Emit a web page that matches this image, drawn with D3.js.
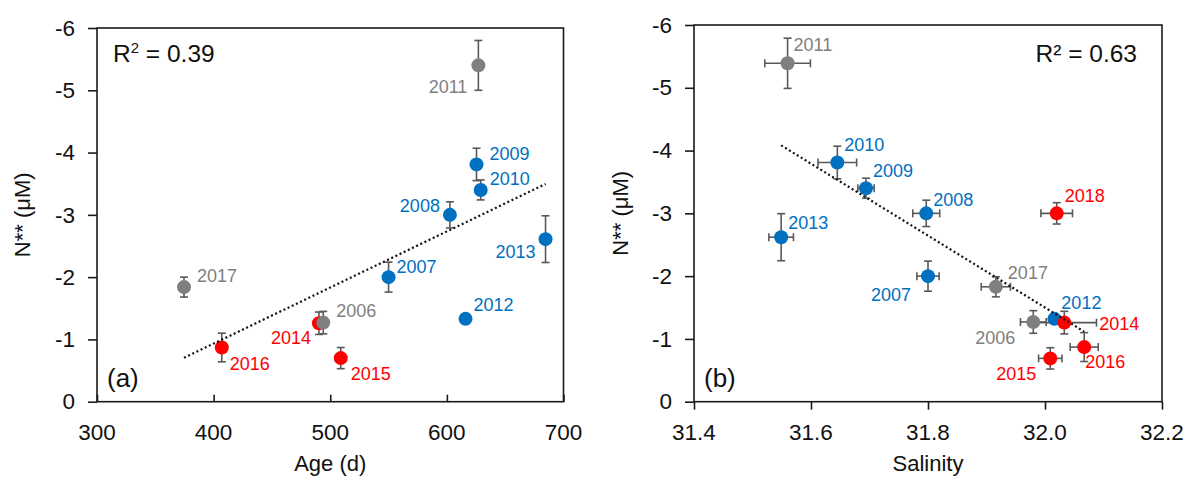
<!DOCTYPE html>
<html>
<head>
<meta charset="utf-8">
<script src="https://cdn.jsdelivr.net/npm/d3@7/dist/d3.min.js"></script>
<style>
  html, body { margin: 0; padding: 0; background: #fff; }
  svg { display: block; }
  text { font-family: "Liberation Sans", Arial, sans-serif; }
</style>
</head>
<body>
<svg id="chart" width="1196" height="478"></svg>
<script>
// Sampling years and their group (A: grey, B: blue, C: red)
const years     = ["2006","2007","2008","2009","2010","2011","2012","2013","2014","2015","2016","2017","2018"];
const groups    = ["A","B","B","B","B","A","B","B","C","C","C","A","C"];
// Panel (a): water age (days) vs N** (µM); no age estimate for 2018
const ageDays   = [494, 550, 602.6, 625.4, 629, 627, 616, 684.6, 490.3, 509, 407, 374.6, null];
const nAge      = [-1.27, -2.00, -3.00, -3.81, -3.40, -5.40, -1.33, -2.61, -1.26, -0.70, -0.87, -1.84, null];
const nAgeErr   = [0.18, 0.24, 0.21, 0.26, 0.16, 0.40, 0.04, 0.375, 0.18, 0.17, 0.23, 0.16, null];
// Panel (b): salinity vs N** (µM)
const salinity  = [31.98, 31.80, 31.797, 31.694, 31.645, 31.56, 32.016, 31.549, 32.033, 32.009, 32.067, 31.916, 32.02];
const salErr    = [0.022, 0.019, 0.023, 0.014, 0.033, 0.039, 0.008, 0.021, 0.055, 0.020, 0.024, 0.025, 0.027];
const nSal      = [-1.27, -2.00, -3.00, -3.40, -3.81, -5.39, -1.32, -2.62, -1.26, -0.69, -0.87, -1.83, -3.00];
const nSalErr   = [0.18, 0.24, 0.21, 0.16, 0.26, 0.40, 0.04, 0.375, 0.18, 0.17, 0.23, 0.16, 0.17];
// Axis ticks
const ageTicks  = [300, 400, 500, 600, 700];
const salTicks  = [31.4, 31.6, 31.8, 32.0, 32.2];
const nTicks    = [0, -1, -2, -3, -4, -5, -6];
// Coefficients of determination shown on each panel
const r2Labels  = ["0.39", "0.63"];
// Draw order within each panel (later = on top)
const orderA = ["2017","2016","2015","2014","2006","2007","2008","2009","2010","2011","2012","2013"];
const orderB = ["2011","2010","2009","2013","2008","2007","2017","2006","2012","2014","2015","2016","2018"];

const colors = { A: "#7f7f7f", B: "#0070c0", C: "#ff0000" };
const textColors = { A: "#808080", B: "#0070c0", C: "#ff0000" };
const errColor = "#595959";

// Year label placement: [dx, dy, anchor] relative to the marker centre
const labelPosA = {
  "2011": [-11, 28, "end"], "2009": [13, -4, "start"], "2010": [9, -5, "start"],
  "2008": [-10, -3, "end"], "2013": [-10, 19, "end"], "2007": [8, -4, "start"],
  "2012": [8, -8, "start"], "2006": [13, -6, "start"], "2014": [-8, 21, "end"],
  "2015": [10, 22, "start"], "2016": [8, 22, "start"], "2017": [13, -5, "start"]
};
const labelPosB = {
  "2011": [6, -12, "start"], "2010": [7, -11, "start"], "2009": [7, -11, "start"],
  "2013": [7, -8, "start"], "2008": [7, -7, "start"], "2018": [8, -11, "start"],
  "2007": [-17, 25, "end"], "2017": [12, -8, "start"], "2006": [-18, 22, "end"],
  "2012": [7, -10, "start"], "2014": [35, 7, "start"], "2016": [1, 21, "start"],
  "2015": [-14, 22, "end"]
};

const recordsA = years.map((y, i) => ({
  year: y, group: groups[i], x: ageDays[i], n: nAge[i], nErr: nAgeErr[i], xErr: null
})).filter(r => r.x != null);
const recordsB = years.map((y, i) => ({
  year: y, group: groups[i], x: salinity[i], n: nSal[i], nErr: nSalErr[i], xErr: salErr[i]
}));

const svg = d3.select("#chart");

function linFit(pts) {
  const mx = d3.mean(pts, p => p[0]), my = d3.mean(pts, p => p[1]);
  let sxy = 0, sxx = 0;
  pts.forEach(p => { sxy += (p[0] - mx) * (p[1] - my); sxx += (p[0] - mx) ** 2; });
  const b = sxy / sxx;
  return { slope: b, intercept: my - b * mx };
}

function drawPanel(cfg) {
  const { left, right, top, bottom, xDomain, xTicks, xFmt, records,
          order, labelPos, tag, r2, r2Right, xTickOutside, xTitle, yTitleX } = cfg;
  const g = svg.append("g");
  const x = d3.scaleLinear().domain(xDomain).range([left, right]);
  const y = d3.scaleLinear().domain([0, -6]).range([bottom, top]);

  // plot frame
  g.append("rect").attr("x", left).attr("y", top)
    .attr("width", right - left).attr("height", bottom - top)
    .attr("fill", "none").attr("stroke", "#1a1a1a").attr("stroke-width", 1.6);

  // y axis: ticks outside
  const yAxis = d3.axisLeft(y).tickValues(nTicks).tickSize(9).tickPadding(13)
    .tickFormat(d => d === 0 ? "0" : "-" + Math.abs(d));
  const ya = g.append("g").attr("transform", `translate(${left},0)`).call(yAxis);
  ya.select(".domain").remove();
  ya.selectAll("line").attr("stroke", "#1a1a1a").attr("stroke-width", 1.6);
  ya.selectAll("text").attr("font-size", 22.5).attr("fill", "#111")
    .attr("font-family", "Liberation Sans, Arial, sans-serif");

  // x axis
  const xAxis = (xTickOutside ? d3.axisBottom(x).tickSize(8) : d3.axisTop(x).tickSize(7))
    .tickValues(xTicks).tickFormat(xFmt);
  const xa = g.append("g").attr("transform", `translate(0,${bottom})`).call(xAxis);
  xa.select(".domain").remove();
  xa.selectAll("line").attr("stroke", "#1a1a1a").attr("stroke-width", 1.6);
  xa.selectAll("text").remove();
  g.selectAll(".xlab").data(xTicks).join("text")
    .attr("x", d => x(d)).attr("y", 440)
    .attr("text-anchor", "middle").attr("font-size", 22.5).attr("fill", "#111")
    .text(xFmt);

  const byYear = new Map(records.map(r => [r.year, r]));
  const drawn = order.map(k => byYear.get(k));

  // error bars
  const eb = g.append("g").attr("stroke", errColor).attr("stroke-width", 1.6).attr("fill", "none");
  drawn.forEach(r => {
    const cx = x(r.x), y1 = y(r.n - r.nErr), y2 = y(r.n + r.nErr);
    eb.append("line").attr("x1", cx).attr("x2", cx).attr("y1", y1).attr("y2", y2);
    eb.append("line").attr("x1", cx - 4).attr("x2", cx + 4).attr("y1", y1).attr("y2", y1);
    eb.append("line").attr("x1", cx - 4).attr("x2", cx + 4).attr("y1", y2).attr("y2", y2);
    if (r.xErr != null) {
      const cy = y(r.n), x1 = x(r.x - r.xErr), x2 = x(r.x + r.xErr);
      eb.append("line").attr("x1", x1).attr("x2", x2).attr("y1", cy).attr("y2", cy);
      eb.append("line").attr("x1", x1).attr("x2", x1).attr("y1", cy - 4).attr("y2", cy + 4);
      eb.append("line").attr("x1", x2).attr("x2", x2).attr("y1", cy - 4).attr("y2", cy + 4);
    }
  });

  // markers
  g.append("g").selectAll("circle").data(drawn).join("circle")
    .attr("cx", r => x(r.x)).attr("cy", r => y(r.n)).attr("r", 7)
    .attr("fill", r => colors[r.group]);

  // least-squares trend line over the data range
  const fit = linFit(records.map(r => [r.x, r.n]));
  const [xmin, xmax] = d3.extent(records, r => r.x);
  g.append("line")
    .attr("x1", x(xmin)).attr("y1", y(fit.intercept + fit.slope * xmin))
    .attr("x2", x(xmax)).attr("y2", y(fit.intercept + fit.slope * xmax))
    .attr("stroke", "#111").attr("stroke-width", 2.2).attr("stroke-dasharray", "2,2.6");

  // year labels
  g.append("g").selectAll("text").data(drawn).join("text")
    .attr("x", r => x(r.x) + labelPos[r.year][0])
    .attr("y", r => y(r.n) + labelPos[r.year][1])
    .attr("text-anchor", r => labelPos[r.year][2])
    .attr("font-size", 18).attr("fill", r => textColors[r.group])
    .text(r => r.year);

  // R² annotation
  const rt = g.append("text").attr("y", 62).attr("font-size", 24.5).attr("fill", "#111");
  if (r2Right) {
    rt.attr("x", right - 25).attr("text-anchor", "end").text("R² = " + r2);
  } else {
    rt.attr("x", left + 16);
    rt.append("tspan").text("R");
    rt.append("tspan").attr("font-size", 15).attr("dy", -9).text("2");
    rt.append("tspan").attr("dy", 9).text(" = " + r2);
  }

  // panel tag
  g.append("text").attr("x", left + 10).attr("y", 387)
    .attr("font-family", "Liberation Serif, 'Times New Roman', serif")
    .attr("font-size", 26).attr("fill", "#111").text(tag);

  // axis titles
  g.append("text").attr("x", (left + right) / 2).attr("y", 471)
    .attr("text-anchor", "middle").attr("font-size", 22).attr("fill", "#111").text(xTitle);
  g.append("text").attr("transform", `translate(${yTitleX},${(top + bottom) / 2}) rotate(-90)`)
    .attr("text-anchor", "middle").attr("font-size", 22).attr("fill", "#111").text("N** (μM)");
}

drawPanel({
  left: 97, right: 563.5, top: 28, bottom: 401.7,
  xDomain: [300, 700], xTicks: ageTicks, xFmt: d3.format("d"), records: recordsA,
  order: orderA, labelPos: labelPosA,
  tag: "(a)", r2: r2Labels[0], r2Right: false, xTickOutside: false,
  xTitle: "Age (d)", yTitleX: 30
});

drawPanel({
  left: 694, right: 1162, top: 25, bottom: 401.7,
  xDomain: [31.4, 32.2], xTicks: salTicks, xFmt: d3.format(".1f"), records: recordsB,
  order: orderB, labelPos: labelPosB,
  tag: "(b)", r2: r2Labels[1], r2Right: true, xTickOutside: true,
  xTitle: "Salinity", yTitleX: 628
});
</script>
</body>
</html>
